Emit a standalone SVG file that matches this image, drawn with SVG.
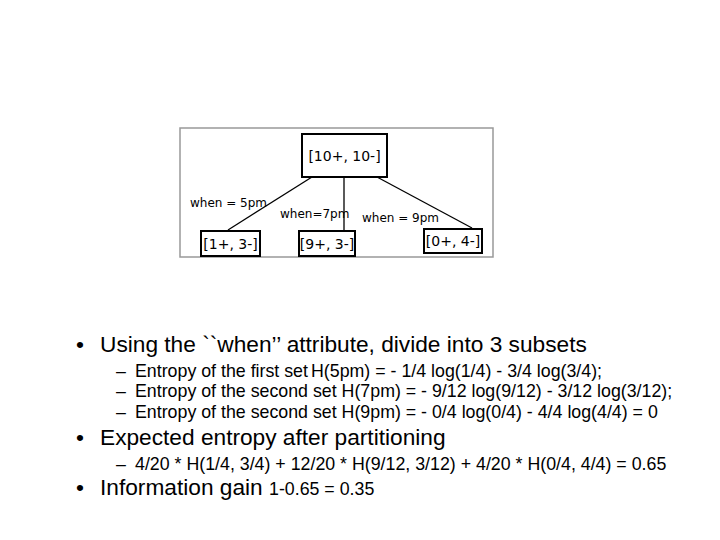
<svg xmlns="http://www.w3.org/2000/svg" width="720" height="540" viewBox="0 0 720 540">
<style>
.n{fill:#fff;stroke:#000;stroke-width:2}
.t{font-family:"DejaVu Sans",sans-serif;font-size:14px}
.lbl{font-family:"DejaVu Sans",sans-serif;font-size:12px}
.b{font-family:"Liberation Sans",Arial,sans-serif;font-size:22.7px}
.s{font-family:"Liberation Sans",Arial,sans-serif;font-size:17.8px}
</style>
<rect width="720" height="540" fill="#fff"/>
<rect x="180" y="128" width="313" height="129" fill="#fff" stroke="#999" stroke-width="1.5"/>
<g id="connectors" stroke="#000" stroke-width="1.3">
<line x1="312" y1="177" x2="228" y2="230"/>
<line x1="344" y1="177" x2="344" y2="230"/>
<line x1="377" y1="177" x2="472" y2="228"/>
</g>
<g id="labels" class="lbl">
<text x="190" y="207">when = 5pm</text>
<text x="280" y="218">when=7pm</text>
<text x="362" y="222">when = 9pm</text>
</g>
<g id="root"><rect class="n" x="302" y="134" width="85" height="43"/><text class="t" x="344.5" y="161" text-anchor="middle">[10+, 10-]</text></g>
<g id="c1"><rect class="n" x="201" y="231" width="59" height="25"/><text class="t" x="230.5" y="249" text-anchor="middle">[1+, 3-]</text></g>
<g id="c2"><rect class="n" x="299" y="231" width="56" height="25"/><text class="t" x="327" y="249" text-anchor="middle">[9+, 3-]</text></g>
<g id="c3"><rect class="n" x="424" y="229" width="58" height="24"/><text class="t" x="453" y="246" text-anchor="middle">[0+, 4-]</text></g>
<g id="text">
<text class="b" x="76" y="352">•</text><text class="b" x="100" y="352">Using the ``when’’ attribute, divide into 3 subsets</text>
<text class="s" x="116" y="377">–</text><text class="s" x="135" y="377">Entropy of the first set</text><text class="s" x="311" y="377">H(5pm) = - 1/4 log(1/4) - 3/4 log(3/4);</text>
<text class="s" x="116" y="397">–</text><text class="s" x="135" y="397">Entropy of the second set H(7pm) = - 9/12 log(9/12) - 3/12 log(3/12);</text>
<text class="s" x="116" y="418">–</text><text class="s" x="135" y="418">Entropy of the second set H(9pm) = - 0/4 log(0/4) - 4/4 log(4/4) = 0</text>
<text class="b" x="76" y="445">•</text><text class="b" x="100" y="445">Expected entropy after partitioning</text>
<text class="s" x="116" y="470">–</text><text class="s" x="135" y="470">4/20 * H(1/4, 3/4) + 12/20 * H(9/12, 3/12) + 4/20 * H(0/4, 4/4) = 0.65</text>
<text class="b" x="76" y="495">•</text><text class="b" x="100" y="495">Information gain <tspan class="s">1-0.65 = 0.35</tspan></text>
</g>
</svg>
